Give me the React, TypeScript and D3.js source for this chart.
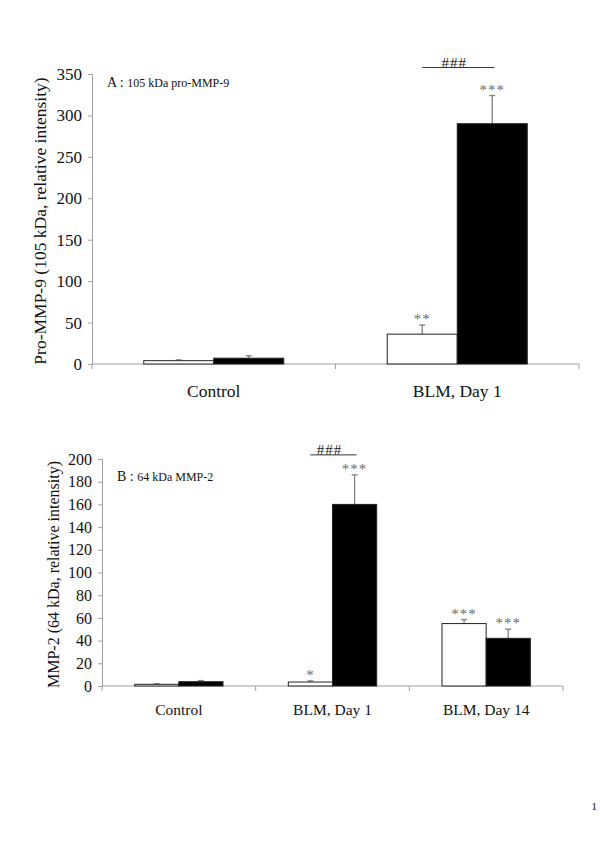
import { useEffect, useRef } from "react";
import * as d3 from "d3";

// panel A: 105 kDa pro-MMP-9
const catsA = ["Control", "BLM, Day 1"];
const whiteA = [4, 36];
const whiteErrA = [1, 11];
const blackA = [7, 290];
const blackErrA = [3, 34];
const starsWhiteA = ["", "**"];
const starsBlackA = ["", "***"];
const ticksA = [0, 50, 100, 150, 200, 250, 300, 350];

// panel B: 64 kDa MMP-2
const catsB = ["Control", "BLM, Day 1", "BLM, Day 14"];
const whiteB = [1.5, 3.5, 55];
const whiteErrB = [0.5, 1, 3.5];
const blackB = [3.8, 160, 42];
const blackErrB = [1, 26, 8];
const starsWhiteB = ["", "*", "***"];
const starsBlackB = ["", "***", "***"];
const ticksB = [0, 20, 40, 60, 80, 100, 120, 140, 160, 180, 200];

const FONT = "Liberation Serif, Times New Roman, DejaVu Serif, serif";
const AXIS_GREY = "#a0a0a0";
const ERR_GREY = "#808080";

type Panel = {
  cats: string[];
  white: number[];
  whiteErr: number[];
  black: number[];
  blackErr: number[];
  starsW: string[];
  starsB: string[];
  ticks: number[];
  hashIndex: number; // which category gets the ### bracket
  hashOffset: number;
  x0: number;
  x1: number;
  yTop: number;
  yZero: number;
  tickFont: number;
  catFont: number;
  catY: number;
  title: string;
  titleFont: number;
  titleX: number;
  tag: string;
  tagText: string;
  tagY: number;
  tagFont: number;
};

function drawPanel(svg: d3.Selection<SVGSVGElement, unknown, null, undefined>, p: Panel) {
  const g = svg.append("g").attr("font-family", FONT);
  const x = d3.scaleBand<string>().domain(p.cats).range([p.x0, p.x1]);
  const y = d3.scaleLinear().domain([0, p.ticks[p.ticks.length - 1]]).range([p.yZero, p.yTop]);
  const groupFrac = 0.575;

  const inner = (c: string) => {
    const bw = x.bandwidth();
    const pad = (bw * (1 - groupFrac)) / 2;
    return d3.scaleBand<string>().domain(["w", "b"]).range([x(c)! + pad, x(c)! + bw - pad]);
  };

  // y axis
  const yAxis = g.append("g")
    .attr("transform", `translate(${p.x0},0)`)
    .call(d3.axisLeft(y).tickValues(p.ticks).tickSize(4).tickPadding(6).tickFormat(d3.format("d")));
  yAxis.attr("font-family", FONT).attr("font-size", p.tickFont);
  yAxis.selectAll("line,path").attr("stroke", AXIS_GREY);
  yAxis.selectAll("text").attr("fill", "#111");

  // x axis
  const xAxis = g.append("g").attr("transform", `translate(0,${p.yZero})`);
  xAxis.append("line")
    .attr("x1", p.x0).attr("x2", p.x1)
    .attr("stroke", AXIS_GREY);
  const bounds = [...p.cats.map((c) => x(c)!), p.x1];
  xAxis.selectAll("line.tk")
    .data(bounds)
    .join("line")
    .attr("class", "tk")
    .attr("x1", (d) => d).attr("x2", (d) => d)
    .attr("y1", 0).attr("y2", 5)
    .attr("stroke", AXIS_GREY);
  xAxis.selectAll("text")
    .data(p.cats)
    .join("text")
    .attr("x", (d) => x(d)! + x.bandwidth() / 2)
    .attr("y", p.catY - p.yZero)
    .attr("text-anchor", "middle")
    .attr("font-family", FONT)
    .attr("font-size", p.catFont)
    .attr("fill", "#111")
    .text((d) => d);

  // bars
  const rows = p.cats.flatMap((c, i) => [
    { c, k: "w", v: p.white[i], e: p.whiteErr[i], s: p.starsW[i] },
    { c, k: "b", v: p.black[i], e: p.blackErr[i], s: p.starsB[i] },
  ]);

  // error bars first (behind)
  rows.forEach((r) => {
    const ib = inner(r.c);
    const cx = ib(r.k)! + ib.bandwidth() / 2;
    g.append("line")
      .attr("x1", cx).attr("x2", cx)
      .attr("y1", y(r.v)).attr("y2", y(r.v + r.e))
      .attr("stroke", ERR_GREY).attr("stroke-width", 1.3);
    g.append("line")
      .attr("x1", cx - 3).attr("x2", cx + 3)
      .attr("y1", y(r.v + r.e)).attr("y2", y(r.v + r.e))
      .attr("stroke", ERR_GREY).attr("stroke-width", 1.3);
  });

  rows.forEach((r) => {
    const ib = inner(r.c);
    g.append("rect")
      .attr("x", ib(r.k)!)
      .attr("width", ib.bandwidth())
      .attr("y", y(r.v))
      .attr("height", y(0) - y(r.v))
      .attr("fill", r.k === "w" ? "#fff" : "#000")
      .attr("stroke", "#222")
      .attr("stroke-width", 1);
    if (r.s) {
      g.append("text")
        .attr("x", ib(r.k)! + ib.bandwidth() / 2)
        .attr("y", y(r.v + r.e) - 1)
        .attr("text-anchor", "middle")
        .attr("fill", "#6a6a6a")
        .attr("font-family", FONT)
        .attr("font-size", 15)
        .attr("letter-spacing", 1)
        .text(r.s);
    }
  });

  // ### bracket
  const hc = p.cats[p.hashIndex];
  const ib = inner(hc);
  const hx1 = ib("w")! + ib.bandwidth() / 2;
  const hx2 = ib("b")! + ib.bandwidth() / 2 + 2;
  const hy = y(p.black[p.hashIndex] + p.blackErr[p.hashIndex]) - p.hashOffset;
  g.append("line")
    .attr("x1", hx1).attr("x2", hx2)
    .attr("y1", hy).attr("y2", hy)
    .attr("stroke", "#333");
  g.append("text")
    .attr("x", (hx1 + hx2) / 2 - 4)
    .attr("y", hy)
    .attr("text-anchor", "middle")
    .attr("fill", "#222")
    .attr("font-family", FONT)
    .attr("font-size", 15)
    .attr("letter-spacing", 1)
    .text("###");

  // y title
  const midY = (p.yTop + p.yZero) / 2;
  g.append("text")
    .attr("transform", `translate(${p.titleX},${midY + 2}) rotate(-90)`)
    .attr("text-anchor", "middle")
    .attr("fill", "#111")
    .attr("font-family", FONT)
    .attr("font-size", p.titleFont)
    .text(p.title);

  // panel tag
  const tag = g.append("text")
    .attr("x", p.x0 + 15)
    .attr("y", p.tagY)
    .attr("font-family", FONT)
    .attr("fill", "#111");
  tag.append("tspan").attr("font-size", p.tagFont + 2).text(p.tag + " : ");
  tag.append("tspan").attr("font-size", p.tagFont).text(p.tagText);
}

export default function App() {
  const ref = useRef<SVGSVGElement>(null);

  useEffect(() => {
    document.body.style.margin = "0";
    if (!ref.current) return;
    const svg = d3.select(ref.current);
    svg.selectAll("*").remove();

    drawPanel(svg, {
      cats: catsA, white: whiteA, whiteErr: whiteErrA, black: blackA, blackErr: blackErrA,
      starsW: starsWhiteA, starsB: starsBlackA, ticks: ticksA,
      hashIndex: 1, hashOffset: 28,
      x0: 92, x1: 579, yTop: 74, yZero: 364,
      tickFont: 17, catFont: 17.5, catY: 397,
      title: "Pro-MMP-9 (105 kDa, relative intensity)", titleFont: 17.5, titleX: 46,
      tag: "A", tagText: "105 kDa pro-MMP-9", tagY: 87, tagFont: 12,
    });

    drawPanel(svg, {
      cats: catsB, white: whiteB, whiteErr: whiteErrB, black: blackB, blackErr: blackErrB,
      starsW: starsWhiteB, starsB: starsBlackB, ticks: ticksB,
      hashIndex: 1, hashOffset: 20,
      x0: 102, x1: 563, yTop: 459, yZero: 686,
      tickFont: 16, catFont: 15.5, catY: 715,
      title: "MMP-2 (64 kDa, relative intensity)", titleFont: 16, titleX: 59,
      tag: "B", tagText: "64 kDa MMP-2", tagY: 481, tagFont: 12,
    });

    svg.append("text")
      .attr("x", 597).attr("y", 810)
      .attr("text-anchor", "end")
      .attr("font-family", FONT)
      .attr("font-size", 11)
      .attr("fill", "#111")
      .text("1");
  }, []);

  return <svg ref={ref} width={600} height={849} style={{ display: "block", background: "#fff" }} />;
}
